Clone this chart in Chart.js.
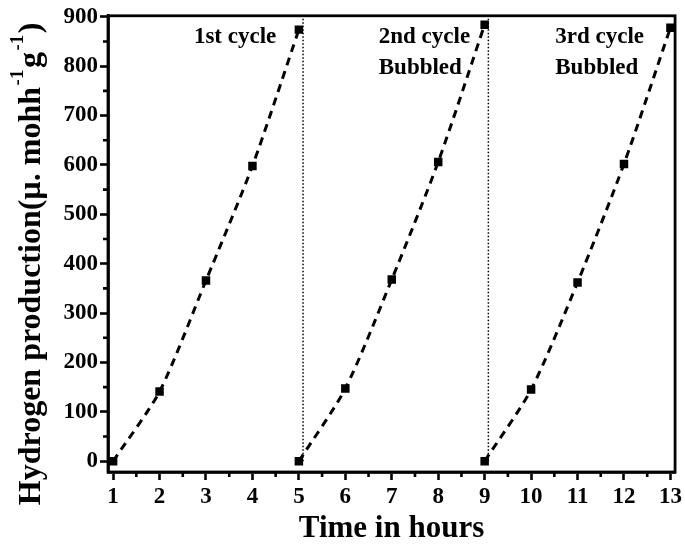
<!DOCTYPE html>
<html>
<head>
<meta charset="utf-8">
<script src="https://cdn.jsdelivr.net/npm/chart.js@4.4.0/dist/chart.umd.min.js"></script>
<style>
  html, body { margin: 0; padding: 0; background: #fff; }
  #wrap { width: 685px; height: 549px; }
</style>
</head>
<body>
<div id="wrap"><canvas id="chart" width="685" height="549"></canvas></div>
<script>
// datos
const cycle1Hours = [1, 2, 3, 4, 5];
const cycle1Values = [0, 141, 366, 598, 874];
const cycle2Hours = [5, 6, 7, 8, 9];
const cycle2Values = [0, 147, 368, 606, 884];
const cycle3Hours = [9, 10, 11, 12, 13];
const cycle3Values = [0, 145, 362, 602, 878];

// lineas punteadas entre ciclos
const dividerHours = [5.09, 9.08];
const dividerRange = [0, 900];

const xTicks = [1, 2, 3, 4, 5, 6, 7, 8, 9, 10, 11, 12, 13];
const yTicks = [0, 100, 200, 300, 400, 500, 600, 700, 800, 900];

// textos dentro del grafico (posicion en unidades de datos)
const notes = [
  { text: "1st cycle", x: 2.74, y: 858 },
  { text: "2nd cycle", x: 6.72, y: 858 },
  { text: "Bubbled", x: 6.72, y: 797 },
  { text: "3rd cycle", x: 10.52, y: 858 },
  { text: "Bubbled", x: 10.52, y: 797 },
];

const FONT = '"Liberation Serif", "Times New Roman", serif';

function toPoints(xs, ys) {
  return xs.map((x, i) => ({ x: x, y: ys[i] }));
}

const cycles = [
  toPoints(cycle1Hours, cycle1Values),
  toPoints(cycle2Hours, cycle2Values),
  toPoints(cycle3Hours, cycle3Values),
];

const datasets = [];

// curvas discontinuas
cycles.forEach((pts) => {
  datasets.push({
    data: pts,
    showLine: true,
    borderColor: "#000",
    borderWidth: 3,
    borderDash: [8, 6],
    tension: 0.25,
    pointRadius: 0,
    fill: false,
  });
});

// marcadores cuadrados
cycles.forEach((pts) => {
  datasets.push({
    data: pts,
    showLine: false,
    pointStyle: "rect",
    pointRadius: 6,
    backgroundColor: "#000",
    borderColor: "#000",
    borderWidth: 0,
  });
});

// divisores verticales
dividerHours.forEach((h) => {
  datasets.push({
    data: dividerRange.map((v) => ({ x: h, y: v })),
    showLine: true,
    borderColor: "#000",
    borderWidth: 1.5,
    borderDash: [1.5, 2],
    pointRadius: 0,
    fill: false,
  });
});

// marco, ticks menores, notas y titulo del eje y
const decorPlugin = {
  id: "decor",
  afterDraw(chart) {
    const ctx = chart.ctx;
    const area = chart.chartArea;
    const xs = chart.scales.x;
    const ys = chart.scales.y;
    ctx.save();

    ctx.strokeStyle = "#000";
    ctx.lineWidth = 2.8;
    ctx.strokeRect(area.left, area.top, area.right - area.left, area.bottom - area.top);

    // ticks menores
    ctx.lineWidth = 2.6;
    ctx.beginPath();
    for (let v = 1.5; v < 13; v += 1) {
      const px = xs.getPixelForValue(v);
      ctx.moveTo(px, area.bottom);
      ctx.lineTo(px, area.bottom + 5);
    }
    for (let v = 50; v < 900; v += 100) {
      const py = ys.getPixelForValue(v);
      ctx.moveTo(area.left, py);
      ctx.lineTo(area.left - 5, py);
    }
    ctx.stroke();

    // notas
    ctx.fillStyle = "#000";
    ctx.font = "bold 23px " + FONT;
    ctx.textAlign = "left";
    ctx.textBaseline = "middle";
    notes.forEach((n) => {
      ctx.fillText(n.text, xs.getPixelForValue(n.x), ys.getPixelForValue(n.y));
    });

    // titulo eje y con superindices
    const parts = [
      { t: "Hydrogen production(\u00b5. mohh", sup: false },
      { t: "-1", sup: true },
      { t: "g", sup: false },
      { t: "-1", sup: true },
      { t: ")", sup: false },
    ];
    const big = "bold 32px " + FONT;
    const small = "bold 19px " + FONT;
    let total = 0;
    parts.forEach((p) => {
      ctx.font = p.sup ? small : big;
      total += ctx.measureText(p.t).width + (p.sup ? 3 : 0);
    });
    ctx.translate(32, (area.top + area.bottom) / 2 + 20);
    ctx.rotate(-Math.PI / 2);
    ctx.textBaseline = "middle";
    let cur = -total / 2;
    parts.forEach((p) => {
      ctx.font = p.sup ? small : big;
      ctx.fillText(p.t, cur + (p.sup ? 1.5 : 0), p.sup ? -14 : 0);
      cur += ctx.measureText(p.t).width + (p.sup ? 3 : 0);
    });

    ctx.restore();
  },
};

new Chart(document.getElementById("chart"), {
  type: "scatter",
  data: { datasets: datasets },
  options: {
    responsive: false,
    animation: false,
    layout: { padding: { left: 0, top: 13, right: 9, bottom: 0 } },
    plugins: {
      legend: { display: false },
      tooltip: { enabled: false },
    },
    scales: {
      x: {
        type: "linear",
        min: 0.89,
        max: 13.1,
        afterBuildTicks: (scale) => {
          scale.ticks = xTicks.map((v) => ({ value: v }));
        },
        afterFit: (scale) => {
          scale.height = 77;
        },
        grid: {
          drawOnChartArea: false,
          drawTicks: true,
          tickLength: 8,
          tickWidth: 2.6,
          tickColor: "#000",
        },
        border: { display: true, color: "#000", width: 2.8 },
        ticks: {
          color: "#000",
          padding: 3,
          maxRotation: 0,
          autoSkip: false,
          font: { family: FONT, size: 23, weight: "bold" },
        },
        title: {
          display: true,
          text: "Time in hours",
          color: "#000",
          padding: { top: 2, bottom: 1 },
          font: { family: FONT, size: 31, weight: "bold" },
        },
      },
      y: {
        type: "linear",
        min: -22,
        max: 902,
        afterBuildTicks: (scale) => {
          scale.ticks = yTicks.map((v) => ({ value: v }));
        },
        afterFit: (scale) => {
          scale.width = 108;
        },
        grid: {
          drawOnChartArea: false,
          drawTicks: true,
          tickLength: 8,
          tickWidth: 2.6,
          tickColor: "#000",
        },
        border: { display: true, color: "#000", width: 2.8 },
        ticks: {
          color: "#000",
          padding: 2,
          autoSkip: false,
          font: { family: FONT, size: 23, weight: "bold" },
        },
      },
    },
  },
  plugins: [decorPlugin],
});
</script>
</body>
</html>
